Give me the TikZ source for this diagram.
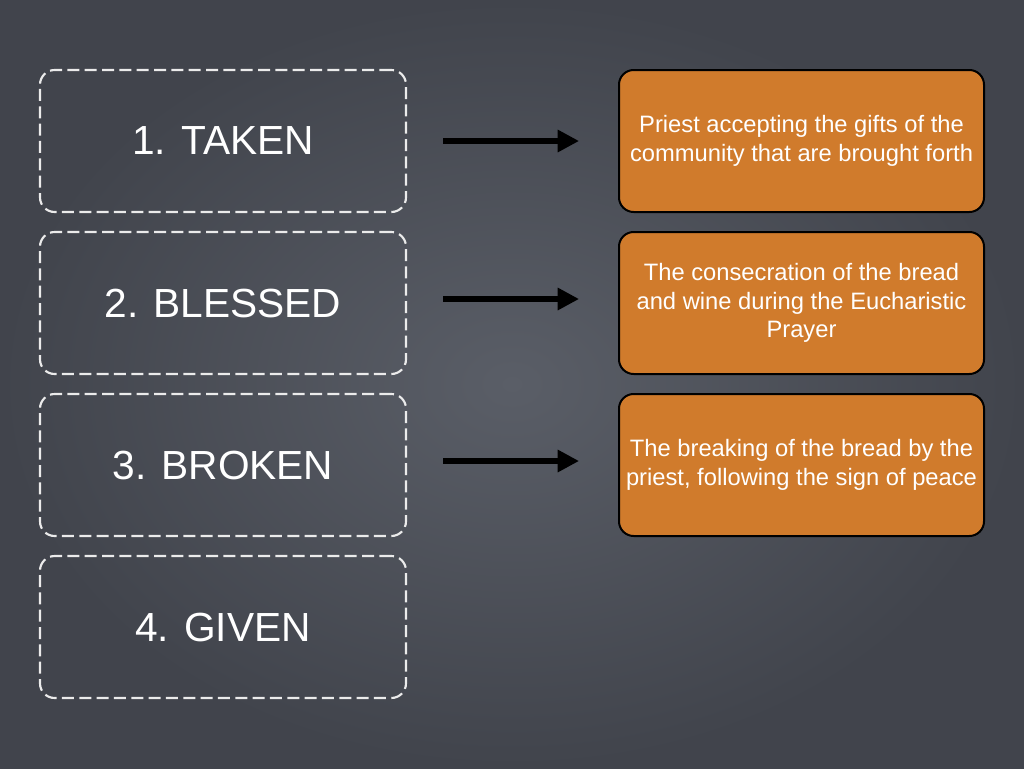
\documentclass[tikz,border=0pt]{standalone}
\usepackage{fontspec}
\setmainfont{TeX Gyre Heros}
\newfontfamily\arialf{Liberation Sans}
\usetikzlibrary{arrows.meta}
\definecolor{bgc}{HTML}{5A5E67}
\definecolor{bgd}{HTML}{41444C}
\definecolor{org}{HTML}{D07B2C}
\begin{document}
\begin{tikzpicture}[x=0.75pt,y=-0.75pt,
  lbox/.style={draw=white!92!black,dashed,dash pattern=on 9pt off 4pt,line width=1.6pt,rounded corners=11pt,minimum width=274.5pt,minimum height=106.5pt,text=white,font=\arialf\fontsize{30.5}{34}\selectfont},
  rbox/.style={draw=black,fill=org,line width=1.5pt,rounded corners=11pt,minimum width=273.75pt,minimum height=106.5pt,text=white,align=center,inner sep=1pt,font=\arialf\fontsize{17.8}{21.5}\selectfont},
  arr/.style={-{Triangle[length=16pt,width=16pt]},line width=3.8pt,black}]
\shade[inner color=bgc, outer color=bgd] (0,0) rectangle (1024,768);
\useasboundingbox (0,0) rectangle (1024,768);
\node[lbox] (l1) at (223,141) {1. TAKEN};
\node[lbox] (l2) at (223,303) {2. BLESSED};
\node[lbox] (l3) at (223,465) {3. BROKEN};
\node[lbox] (l4) at (223,627) {4. GIVEN};
\node[rbox] (r1) at (801.5,141) {Priest accepting the gifts of the\\community that are brought forth};
\node[rbox] (r2) at (801.5,303) {The consecration of the bread\\and wine during the Eucharistic\\Prayer};
\node[rbox] (r3) at (801.5,465) {The breaking of the bread by the\\priest, following the sign of peace};
\coordinate (a1) at (443,141); \coordinate (b1) at (579,141);
\coordinate (a2) at (443,299); \coordinate (b2) at (579,299);
\coordinate (a3) at (443,461); \coordinate (b3) at (579,461);
\draw[arr] (a1) -- (b1);
\draw[arr] (a2) -- (b2);
\draw[arr] (a3) -- (b3);
\end{tikzpicture}
\end{document}
